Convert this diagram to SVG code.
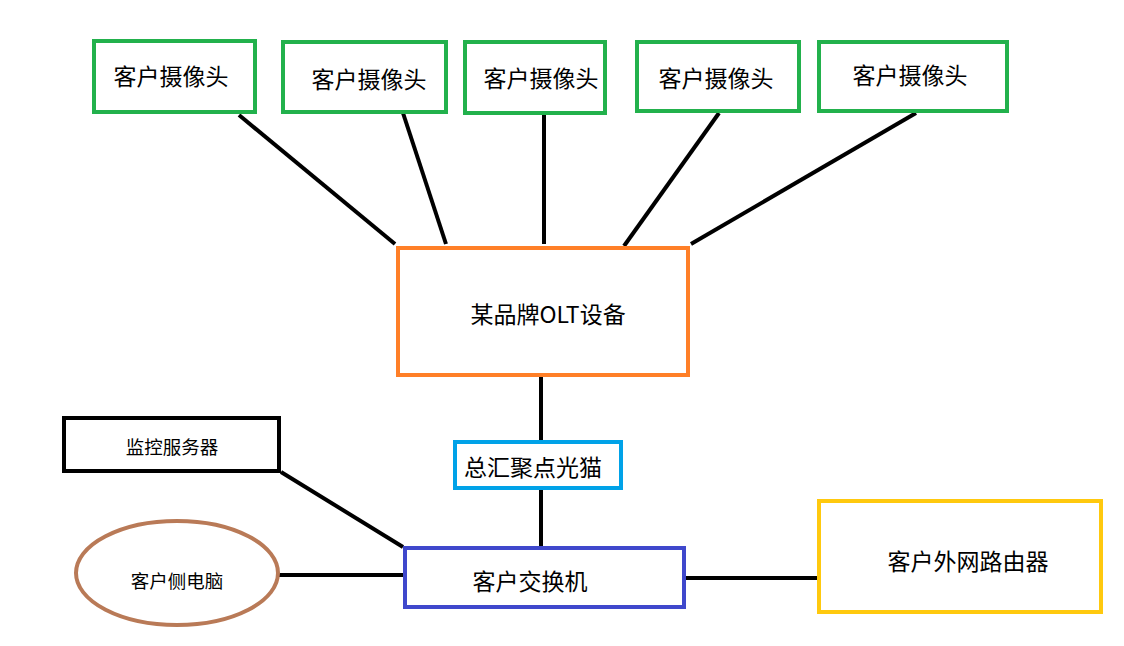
<svg xmlns="http://www.w3.org/2000/svg" width="1124" height="646" viewBox="0 0 1124 646">
<style>
text{font-family:"Noto Sans CJK SC","Noto Sans",sans-serif;fill:#000;text-anchor:middle;dominant-baseline:central}
.cam{fill:#fff;stroke:#22B14C;stroke-width:4}
.l{stroke:#000;stroke-width:4;fill:none}
.t22{font-size:23px}
.t17{font-size:18.5px}
</style>
<rect width="1124" height="646" fill="#fff"/>
<g id="connectors">
<line class="l" x1="239" y1="115" x2="395" y2="244"/>
<line class="l" x1="403" y1="113" x2="446" y2="244"/>
<line class="l" x1="544" y1="115" x2="544" y2="244"/>
<line class="l" x1="719" y1="113" x2="624" y2="246"/>
<line class="l" x1="916" y1="113" x2="691" y2="244"/>
<line class="l" x1="541" y1="376" x2="541" y2="440"/>
<line class="l" x1="541" y1="490" x2="541" y2="546"/>
<line class="l" x1="281" y1="472" x2="403" y2="547"/>
<line class="l" x1="278" y1="575" x2="403" y2="575"/>
<line class="l" x1="685" y1="578" x2="817" y2="578"/>
</g>
<g id="cam1"><rect class="cam" x="94" y="41" width="161" height="71"/><text class="t22" x="171" y="75">客户摄像头</text></g>
<g id="cam2"><rect class="cam" x="283" y="42" width="163" height="70"/><text class="t22" x="369" y="78">客户摄像头</text></g>
<g id="cam3"><rect class="cam" x="465" y="42" width="140" height="71"/><text class="t22" x="541" y="77">客户摄像头</text></g>
<g id="cam4"><rect class="cam" x="637" y="42" width="162" height="69"/><text class="t22" x="716" y="77">客户摄像头</text></g>
<g id="cam5"><rect class="cam" x="819" y="42" width="188" height="69"/><text class="t22" x="910" y="74">客户摄像头</text></g>
<g id="olt"><rect x="398" y="248" width="290" height="127" fill="#fff" stroke="#FF7F27" stroke-width="4"/><text class="t22" x="548" y="313">某品牌OLT设备</text></g>
<g id="modem"><rect x="455" y="442" width="166" height="46" fill="#fff" stroke="#00A2E8" stroke-width="4"/><text class="t22" x="533" y="466">总汇聚点光猫</text></g>
<g id="switch"><rect x="405" y="548" width="279" height="59" fill="#fff" stroke="#3F48CC" stroke-width="4"/><text class="t22" x="530" y="580">客户交换机</text></g>
<g id="server"><rect x="64" y="418" width="215" height="53" fill="#fff" stroke="#000" stroke-width="4"/><text class="t17" x="172" y="446">监控服务器</text></g>
<g id="pc"><ellipse cx="177" cy="573" rx="101" ry="52" fill="#fff" stroke="#B97A57" stroke-width="4"/><text class="t17" x="177" y="580">客户侧电脑</text></g>
<g id="router"><rect x="819" y="501" width="282" height="111" fill="#fff" stroke="#FFC90E" stroke-width="4"/><text class="t22" x="968" y="560">客户外网路由器</text></g>
</svg>
